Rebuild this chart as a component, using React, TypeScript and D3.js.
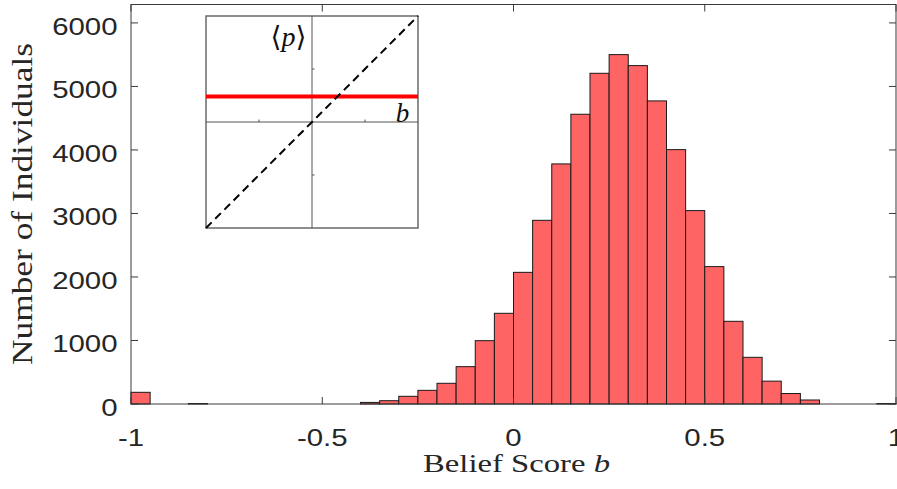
import React from "react";
import * as d3 from "d3";

// Histogram of belief scores, 40 bins of width 0.05 over [-1, 1]
const binStart = -1;
const binWidth = 0.05;
const counts = [
  184, 0, 0, 8, 0, 0, 0, 0, 0, 0, 0, 0,
  25, 52, 121, 215, 326, 588, 997, 1428,
  2073, 2892, 3780, 4562, 5207, 5501, 5328, 4772, 4005, 3045,
  2163, 1302, 735, 360, 165, 63, 0, 0, 0, 8,
];

const xTicks = [-1, -0.5, 0, 0.5, 1];
const xTickLabels = ["-1", "-0.5", "0", "0.5", "1"];
const yTicks = [0, 1000, 2000, 3000, 4000, 5000, 6000];

// Inset: mean opinion <p> versus b
const insetDomain = [-1, 1];
const insetTicks = [-0.5, 0.5];
const meanP = 0.24;

const W = 897;
const H = 489;
const M = { left: 131, right: 896, top: 4.5, bottom: 404 };
const AX = "#3a3a3a";
const TXT = "#262626";
const SANS = "'Liberation Sans', Arial, Helvetica, sans-serif";
const SERIF = "'Liberation Serif', 'Times New Roman', serif";

export default function App() {
  const x = d3.scaleLinear().domain([-1, 1]).range([M.left, M.right]);
  const y = d3.scaleLinear().domain([0, 6290]).range([M.bottom, M.top]);

  const bins = counts.map((c, i) => ({
    x0: binStart + i * binWidth,
    x1: binStart + (i + 1) * binWidth,
    c,
  }));

  // inset geometry
  const ix = d3.scaleLinear().domain(insetDomain).range([206, 418]);
  const iy = d3.scaleLinear().domain(insetDomain).range([228, 16]);
  const diag = d3.line<number>().x((v) => ix(v)).y((v) => iy(v));

  const tickLen = 7;

  return (
    <svg
      width={W}
      height={H}
      style={{ position: "absolute", left: 0, top: 0, background: "#fff" }}
    >
      <rect x={0} y={0} width={W} height={H} fill="#fff" />

      {/* bars */}
      {bins
        .filter((b) => b.c > 0)
        .map((b, i) => (
          <rect
            key={i}
            x={x(b.x0)}
            y={y(b.c)}
            width={x(b.x1) - x(b.x0)}
            height={y(0) - y(b.c)}
            fill="#ff6464"
            stroke="#1a1a1a"
            strokeWidth={1}
          />
        ))}

      {/* axes box */}
      <rect
        x={M.left}
        y={M.top}
        width={M.right - M.left}
        height={M.bottom - M.top}
        fill="none"
        stroke={AX}
        strokeWidth={1}
      />

      {/* x ticks, bottom and top */}
      {xTicks.map((t, i) => (
        <g key={"xt" + i}>
          <line x1={x(t)} x2={x(t)} y1={M.bottom} y2={M.bottom - tickLen} stroke={AX} />
          <line x1={x(t)} x2={x(t)} y1={M.top} y2={M.top + tickLen} stroke={AX} />
          <text
            transform={`translate(${x(t)},445.5) scale(1.25,1)`}
            textAnchor="middle"
            fontFamily={SANS}
            fontSize={23.5}
            fill={TXT}
          >
            {xTickLabels[i]}
          </text>
        </g>
      ))}

      {/* y ticks, left and right */}
      {yTicks.map((t, i) => (
        <g key={"yt" + i}>
          <line x1={M.left} x2={M.left + tickLen} y1={y(t)} y2={y(t)} stroke={AX} />
          <line x1={M.right} x2={M.right - tickLen} y1={y(t)} y2={y(t)} stroke={AX} />
          <text
            transform={`translate(117.5,${y(t) + 12}) scale(1.25,1)`}
            textAnchor="end"
            fontFamily={SANS}
            fontSize={23.5}
            fill={TXT}
          >
            {t}
          </text>
        </g>
      ))}

      {/* axis titles */}
      <text
        x={516.5}
        y={471.5}
        textAnchor="middle"
        fontFamily={SERIF}
        fontSize={26}
        fill={TXT}
        textLength={187}
        lengthAdjust="spacingAndGlyphs"
      >
        Belief Score <tspan fontStyle="italic">b</tspan>
      </text>
      <text
        transform="translate(32,204) rotate(-90)"
        textAnchor="middle"
        fontFamily={SERIF}
        fontSize={30}
        fill={TXT}
        textLength={322}
        lengthAdjust="spacingAndGlyphs"
      >
        Number of Individuals
      </text>

      {/* inset */}
      <g>
        <rect
          x={ix(-1)}
          y={iy(1)}
          width={ix(1) - ix(-1)}
          height={iy(-1) - iy(1)}
          fill="#fff"
          stroke="#6a6a6a"
          strokeWidth={1.5}
        />
        <line x1={ix(-1)} x2={ix(1)} y1={iy(0)} y2={iy(0)} stroke="#555" strokeWidth={1} />
        <line x1={ix(0)} x2={ix(0)} y1={iy(-1)} y2={iy(1)} stroke="#555" strokeWidth={1} />
        {insetTicks.map((t, i) => (
          <g key={"it" + i}>
            <line x1={ix(t)} x2={ix(t)} y1={iy(0)} y2={iy(0) - 2.5} stroke="#555" />
            <line x1={ix(0)} x2={ix(0) + 2.5} y1={iy(t)} y2={iy(t)} stroke="#555" />
          </g>
        ))}
        <line
          x1={ix(-1)}
          x2={ix(1)}
          y1={iy(meanP)}
          y2={iy(meanP)}
          stroke="#ff0000"
          strokeWidth={4}
        />
        <path
          d={diag(insetDomain) ?? ""}
          fill="none"
          stroke="#000"
          strokeWidth={2}
          strokeDasharray="8 5"
        />
        <text
          x={288.5}
          y={46}
          textAnchor="middle"
          fontFamily="'DejaVu Serif', serif"
          fontSize={28}
          fill="#111"
        >
          ⟨<tspan fontFamily={SERIF} fontStyle="italic" fontSize={28}>p</tspan>⟩
        </text>
        <text
          x={402.5}
          y={121.5}
          textAnchor="middle"
          fontFamily={SERIF}
          fontStyle="italic"
          fontSize={27}
          fill="#111"
        >
          b
        </text>
      </g>
    </svg>
  );
}
